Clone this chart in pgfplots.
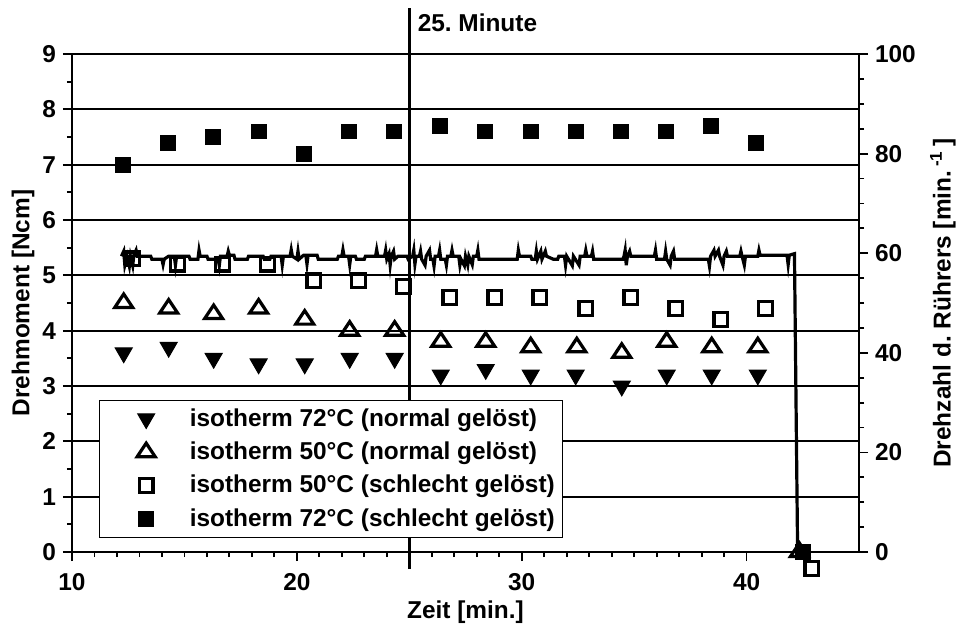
\documentclass[border=0pt]{standalone}
\usepackage{pgfplots}
\pgfplotsset{compat=1.18}
\usepackage{fontspec}
\setmainfont{Liberation Sans}
\frenchspacing
\begin{document}
\begin{tikzpicture}[font=\fontsize{12.2}{14.5}\selectfont\bfseries]
\pgfplotsset{
  every axis/.append style={
    scale only axis, width=393.5pt, height=249pt,
    xmin=10, xmax=45, clip=false,
    /pgf/number format/assume math mode=true,
    axis line style={line width=0.9pt},
    tick style={black, line width=0.9pt},
    tick align=outside,
    major tick length=4.5pt, minor tick length=2.6pt,
  },
}
% Drehmoment (left axis)
\begin{axis}[
  axis y line*=left, axis x line*=bottom,
  ymin=0, ymax=9, ytick={0,1,...,9}, minor y tick num=1,
  xtick={10,20,30,40}, minor x tick num=9,
  xticklabel style={yshift=-2.5pt},
  ymajorgrids, grid style={black, line width=0.9pt},
  xlabel={Zeit [min.]}, ylabel={Drehmoment [Ncm]},
  every axis x label/.style={at={(axis description cs:0.5,-0.12)}, anchor=center},
  every axis y label/.style={at={(axis description cs:-0.0623,0.5)}, rotate=90, anchor=center},
  legend style={at={(axis description cs:0.0343,0.028)}, anchor=south west,
    draw=black, line width=0.6pt, fill=white, inner xsep=2pt, inner ysep=2pt,
    row sep=2.4pt, cells={anchor=west}},
  legend image code/.code={\draw[#1] plot coordinates {(21pt,0pt)}; \path (0pt,-5pt) (40.5pt,5pt);},
]
\addplot[only marks, mark=triangle*, mark size=4.9pt, mark options={rotate=180, fill=black, line width=0.5pt}]
  coordinates {(12.3,3.6)(14.3,3.7)(16.3,3.5)(18.3,3.4)(20.35,3.4)(22.35,3.5)(24.35,3.5)(26.4,3.2)(28.4,3.3)(30.4,3.2)(32.4,3.2)(34.45,3.0)(36.45,3.2)(38.45,3.2)(40.5,3.2)};
\addlegendentry{isotherm 72°C (normal gelöst)}
\addplot[only marks, mark=triangle, mark size=4.5pt, mark options={xscale=1.15, line width=1.6pt}]
  coordinates {(12.3,4.5)(14.3,4.4)(16.3,4.3)(18.3,4.4)(20.35,4.2)(22.35,4.0)(24.35,4.0)(26.4,3.8)(28.4,3.8)(30.4,3.7)(32.45,3.7)(34.45,3.6)(36.45,3.8)(38.45,3.7)(40.5,3.7)(42.35,0)};
\addlegendentry{isotherm 50°C (normal gelöst)}
\addplot[only marks, mark=square, mark size=3.4pt, mark options={line width=1.6pt}]
  coordinates {(12.7,5.3)(14.7,5.2)(16.7,5.2)(18.7,5.2)(20.75,4.9)(22.75,4.9)(24.75,4.8)(26.8,4.6)(28.8,4.6)(30.8,4.6)(32.85,4.4)(34.85,4.6)(36.85,4.4)(38.85,4.2)(40.85,4.4)(42.9,-0.3)};
\addlegendentry{isotherm 50°C (schlecht gelöst)}
\addplot[only marks, mark=square*, mark size=3.7pt, mark options={fill=black, line width=0.4pt}]
  coordinates {(12.25,7.0)(14.25,7.4)(16.27,7.5)(18.3,7.6)(20.3,7.2)(22.3,7.6)(24.3,7.6)(26.35,7.7)(28.36,7.6)(30.4,7.6)(32.4,7.6)(34.4,7.6)(36.4,7.6)(38.4,7.7)(40.4,7.4)(42.5,0)};
\addlegendentry{isotherm 72°C (schlecht gelöst)}
% 25. Minute
\addplot[forget plot, no marks, line width=1.6pt] coordinates {(25,-0.31)(25,9.84)};
\node[anchor=base west, inner sep=0pt] at (axis cs:25.36,9.40) {25. Minute};
\end{axis}
% Drehzahl (right axis)
\begin{axis}[
  axis y line*=right, axis x line=none,
  ymin=0, ymax=100, ytick={0,20,...,100}, minor y tick num=3,
  ylabel={Drehzahl d. Rührers [min.\,\textsuperscript{-1}\,]},
  every axis y label/.style={at={(axis description cs:1.1067,0.5)}, rotate=90, anchor=center},
]
\addplot[no marks, line width=1.6pt, line join=miter] coordinates {
(12.2,59.4)(12.3,60.4)(12.35,57.6)(12.45,59.4)(12.55,57.4)(12.6,59.4)(12.7,57.5)(12.75,59.6)(12.85,60.6)(12.9,59.4)
(13.5,59.4)(13.55,58.8)(14.0,58.8)(14.05,57.7)(14.1,58.8)(14.3,59.4)(14.55,59.4)(14.6,57.6)(14.65,59.4)(15.2,59.4)
(15.25,58.8)(15.6,58.8)(15.65,60.6)(15.7,59.4)(16.0,59.4)(16.05,58.8)(16.5,58.8)(16.55,57.5)(16.6,59.4)(16.9,59.4)
(16.95,60.4)(17.0,59.6)(17.2,59.6)(17.25,58.8)(17.8,58.8)(17.85,59.4)(18.5,59.4)(18.55,58.8)(18.8,58.8)(18.85,59.4)
(19.3,59.4)(19.35,57.6)(19.4,59.4)(19.7,59.4)(19.75,60.7)(19.8,59.4)(20.0,58.8)(20.05,60.4)(20.1,58.8)(20.3,59.6)
(20.4,59.6)(20.45,57.8)(20.5,59.6)(20.9,59.6)(20.95,58.8)(21.8,58.8)(21.85,59.4)(22.0,59.4)(22.05,60.7)(22.1,59.4)
(22.3,59.4)(22.35,57.7)(22.4,59.4)(22.6,59.4)(22.65,58.8)(23.0,58.8)(23.05,59.4)(23.5,59.4)(23.55,60.7)(23.6,59.4)
(23.9,59.4)(23.95,60.6)(24.0,58.8)(24.1,59.9)(24.15,57.6)(24.2,59.4)(24.3,60.4)(24.35,58.8)(24.5,59.4)(24.9,59.4)
(24.95,58.8)(25.15,59.4)(25.2,60.6)(25.25,57.8)(25.3,59.4)(25.45,59.4)(25.5,60.4)(25.55,58.8)(25.7,57.6)(25.75,59.4)
(25.9,60.6)(25.95,58.8)(26.05,58.8)(26.1,57.4)(26.15,59.4)(26.3,59.4)(26.35,60.6)(26.4,58.8)(26.6,58.8)(26.65,57.6)
(26.7,59.4)(26.85,59.4)(26.9,60.6)(26.95,59.4)(27.2,59.4)(27.25,57.6)(27.3,58.8)(27.45,57.5)(27.5,59.4)(27.6,57.6)
(27.65,59.4)(27.8,57.7)(27.85,59.4)(28.0,59.4)(28.05,60.6)(28.1,58.8)(29.8,58.8)(29.85,60.6)(29.9,59.4)(30.4,59.4)
(30.45,58.8)(30.6,58.8)(30.65,60.4)(30.7,58.8)(30.85,60.4)(30.9,58.8)(31.05,60.4)(31.1,59.4)(31.4,58.8)(31.6,58.8)
(31.65,59.4)(31.9,59.4)(31.95,57.6)(32.0,59.4)(32.25,57.5)(32.3,59.4)(32.55,57.6)(32.6,59.4)(32.8,59.4)(32.85,60.6)
(32.9,59.4)(33.1,59.4)(33.15,60.4)(33.2,58.8)(34.5,58.8)(34.55,59.4)(34.6,60.6)(34.65,57.6)(34.7,59.4)(34.8,60.4)
(34.85,59.4)(35.9,59.4)(35.95,60.6)(36.0,58.8)(36.35,58.8)(36.4,60.4)(36.45,58.8)(36.6,57.6)(36.65,59.4)(36.75,60.4)
(36.8,58.8)(38.3,58.8)(38.35,57.4)(38.4,59.4)(38.55,60.6)(38.6,59.4)(38.75,60.6)(38.8,59.4)(38.95,57.6)(39.0,59.4)
(39.1,60.4)(39.15,59.4)(39.7,59.4)(39.75,60.4)(39.8,59.4)(39.9,57.6)(39.95,59.4)(40.5,59.4)(40.55,60.6)(40.6,59.6)
(41.8,59.6)(41.85,57.7)(41.9,59.6)(42.13,59.9)(42.27,0)};
\end{axis}
\pgfresetboundingbox
\path[use as bounding box] (-36pt,-35.5pt) rectangle (444pt,276pt);
\end{tikzpicture}
\end{document}
